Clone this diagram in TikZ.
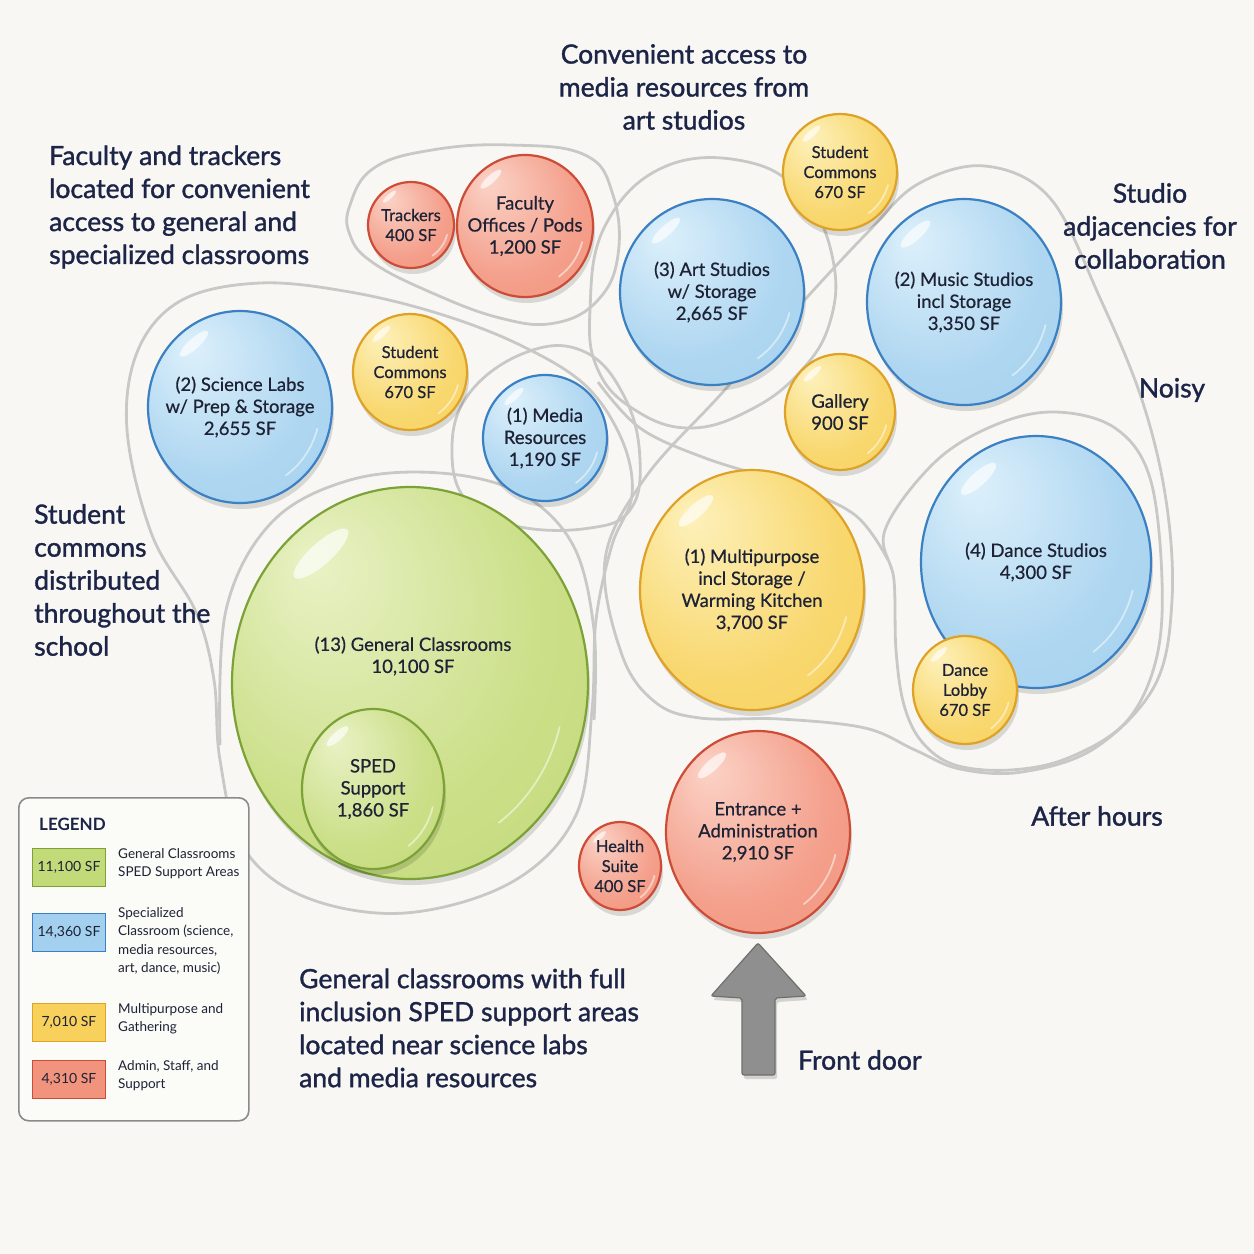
\documentclass[tikz,border=0pt]{standalone}
\usepackage{fontspec}
\setmainfont{Lato}
\newfontfamily\titlef{Lato}[FakeBold=1.3]
\newfontfamily\bubf{Lato}[FakeBold=0.6]
\usetikzlibrary{shapes.geometric,shadows,calc}

\definecolor{bg}{HTML}{F8F7F3}
\definecolor{ink}{HTML}{1C2447}
\definecolor{bink}{HTML}{1E2235}
\definecolor{loopc}{HTML}{C8C8C6}
\definecolor{bluefill}{HTML}{A3D0EE}
\definecolor{blueedge}{HTML}{3A80C2}
\definecolor{bluelight}{HTML}{DDF0FB}
\definecolor{yelfill}{HTML}{F7D15C}
\definecolor{yeledge}{HTML}{DDA227}
\definecolor{yellight}{HTML}{FDF1BC}
\definecolor{redfill}{HTML}{F2937D}
\definecolor{rededge}{HTML}{CC4C37}
\definecolor{redlight}{HTML}{FBD3C7}
\definecolor{grnfill}{HTML}{C3DA78}
\definecolor{grnedge}{HTML}{7CA237}
\definecolor{grnlight}{HTML}{E9F2C6}
\definecolor{arrowfill}{HTML}{8F8F8F}
\definecolor{arrowedge}{HTML}{6F6F6F}
\definecolor{legedge}{HTML}{8A8A8A}

\pgfdeclareradialshading{gblue}{\pgfqpoint{-14bp}{16bp}}{color(0bp)=(bluelight); color(26bp)=(bluefill!80!bluelight); color(44bp)=(bluefill); color(50bp)=(bluefill!85!blueedge)}
\pgfdeclareradialshading{gyel}{\pgfqpoint{-14bp}{16bp}}{color(0bp)=(yellight); color(26bp)=(yelfill!80!yellight); color(44bp)=(yelfill); color(50bp)=(yelfill!85!yeledge)}
\pgfdeclareradialshading{gred}{\pgfqpoint{-14bp}{16bp}}{color(0bp)=(redlight); color(26bp)=(redfill!80!redlight); color(44bp)=(redfill); color(50bp)=(redfill!85!rededge)}
\pgfdeclareradialshading{ggrn}{\pgfqpoint{-14bp}{16bp}}{color(0bp)=(grnlight); color(26bp)=(grnfill!80!grnlight); color(44bp)=(grnfill); color(50bp)=(grnfill!85!grnedge)}

\tikzset{
  bubble/.style={ellipse, inner sep=0pt, draw=#1edge, line width=2.2pt,
    drop shadow={shadow xshift=2pt, shadow yshift=-6pt, opacity=0.13, fill=black}},
  bblue/.style={bubble=blue, shading=gblue},
  byel/.style={bubble=yel, shading=gyel},
  bred/.style={bubble=red, shading=gred},
  bgrn/.style={bubble=grn, shading=ggrn},
  btext/.style={align=center, text=bink, inner sep=0pt, font=\bubf\fontsize{18.5}{22}\selectfont},
  stext/.style={align=center, text=bink, inner sep=0pt, font=\bubf\fontsize{16.5}{20}\selectfont},
  ttext/.style={text=ink, inner sep=0pt, font=\titlef\fontsize{26.5}{33}\selectfont},
  loopline/.style={draw=loopc, line width=2.8pt},
  legtext/.style={text=bink, inner sep=0pt, align=left, anchor=north west, font=\fontsize{13.5}{18.5}\selectfont},
  swatch/.style={draw=#1edge, line width=1pt, fill=#1fill, minimum width=73pt, minimum height=38pt, inner sep=0pt, text=bink, font=\fontsize{14}{16}\selectfont, anchor=north west},
}

% name, cx, cy, rx, ry, style, text style, text
\newcommand\bub[8]{%
  \node[#6, minimum width={2*#4}, minimum height={2*#5}] (#1) at (#2,#3) {};
  \fill[white,opacity=.65,rotate around={42:({#2-0.5*#4},{#3-0.66*#5})}] ({#2-0.5*#4},{#3-0.66*#5}) ellipse ({0.2*#4} and {0.055*#5});
  \draw[white,opacity=.5,line width=1.8pt,line cap=round] ({#2},{#3}) ++(15:{0.87*#4} and {0.87*#5}) arc[start angle=15,end angle=55,x radius={0.87*#4},y radius={0.87*#5}];
  \node[#7] (#1t) at (#2,#3) {#8};
}

\begin{document}
\begin{tikzpicture}[x=1pt,y=-1pt]
\useasboundingbox (0,0) rectangle (1254,1254);
\fill[bg] (0,0) rectangle (1254,1254);

% ---------- grouping loops ----------
% faculty
\draw[loopline] plot[smooth cycle, tension=0.7] coordinates {(350,205) (374,168) (432,150) (510,145) (585,155) (613,195) (618,255) (598,300) (555,323) (500,318) (430,292) (372,262) (350,235)};
% left big (science / commons / general classrooms)
\draw[loopline] plot[smooth cycle, tension=0.6] coordinates {(127,430) (138,350) (182,300) (260,283) (350,292) (440,314) (520,345) (585,385) (622,440) (632,495) (612,545) (596,620) (592,710) (576,815) (512,882) (405,913) (305,897) (243,847) (220,760) (214,680) (196,612) (152,535)};
% general classrooms inner arc
\draw[loopline] plot[smooth, tension=0.6] coordinates {(220,745) (226,610) (272,522) (350,480) (440,473) (520,493) (573,545) (594,630) (594,720)};
% media resources
\draw[loopline] plot[smooth cycle, tension=0.7] coordinates {(452,455) (468,395) (527,352) (585,352) (625,398) (640,460) (630,510) (590,528) (520,527) (470,505)};
% art studios
\draw[loopline] plot[smooth cycle, tension=0.7] coordinates {(590,310) (605,226) (664,167) (748,162) (805,198) (833,260) (830,322) (800,372) (750,410) (690,428) (635,410) (598,370)};
% noisy
\draw[loopline] plot[smooth cycle, tension=0.6] coordinates {(605,560) (645,478) (722,393) (800,305) (868,232) (918,184) (985,166) (1050,198) (1100,298) (1142,400) (1166,500) (1172,600) (1155,685) (1095,748) (1022,772) (960,769) (915,750) (865,728) (780,719) (700,718) (655,702) (622,655)};
% dance
\draw[loopline] plot[smooth cycle, tension=0.6] coordinates {(885,530) (935,462) (995,425) (1055,412) (1115,428) (1150,478) (1162,580) (1156,660) (1126,722) (1068,758) (1010,770) (955,765) (922,742) (904,705) (896,650) (894,580)};
% multipurpose top edge
\draw[loopline] plot[smooth, tension=0.6] coordinates {(598,382) (640,428) (705,458) (790,485) (855,515) (888,560)};

% ---------- bubbles ----------
\bub{trk}{411}{225}{43}{43}{bred}{stext}{Trackers\\400 SF}
\bub{fac}{525}{226}{68}{71}{bred}{btext}{Faculty\\Offices / Pods\\1,200 SF}
\bub{scA}{840}{172}{57}{58}{byel}{stext}{Student\\Commons\\670 SF}
\bub{art}{712}{292}{92}{93}{bblue}{btext}{(3) Art Studios\\w/ Storage\\2,665 SF}
\bub{mus}{964}{302}{97}{103}{bblue}{btext}{(2) Music Studios\\incl Storage\\3,350 SF}
\bub{sci}{240}{407}{92}{96}{bblue}{btext}{(2) Science Labs\\w/ Prep \& Storage\\2,655 SF}
\bub{scB}{410}{372}{57}{58}{byel}{stext}{Student\\Commons\\670 SF}
\bub{med}{545}{438}{62}{63}{bblue}{btext}{(1) Media\\Resources\\1,190 SF}
\bub{gal}{840}{412}{55}{58}{byel}{btext}{Gallery\\900 SF}
\bub{mp}{752}{590}{112}{120}{byel}{btext}{(1) Multipurpose\\incl Storage /\\Warming Kitchen\\3,700 SF}
\bub{dan}{1036}{562}{115}{126}{bblue}{btext}{(4) Dance Studios\\4,300 SF}
\bub{lob}{965}{690}{52}{54}{byel}{stext}{Dance\\Lobby\\670 SF}
\bub{gen}{410}{683}{178}{196}{bgrn}{btext}{}
\node[btext] (gent) at (413,656) {(13) General Classrooms\\10,100 SF};
\bub{sped}{373}{789}{71}{80}{bgrn}{btext}{SPED\\Support\\1,860 SF}
\bub{hea}{620}{866}{41}{44}{bred}{stext}{Health\\Suite\\400 SF}
\bub{ent}{758}{832}{92}{101}{bred}{btext}{Entrance +\\Administration\\2,910 SF}

% ---------- annotations ----------
\node[ttext, align=center] (tA) at (684,87) {Convenient access to\\media resources from\\art studios};
\node[ttext, align=left, anchor=west] (tB) at (49,207) {Faculty and trackers\\located for convenient\\access to general and\\specialized classrooms};
\node[ttext, align=center] (tC) at (1150,226) {Studio\\adjacencies for\\collaboration};
\node[ttext] (tD) at (1172,390) {Noisy};
\node[ttext, align=left, anchor=west] (tE) at (34,580) {Student\\commons\\distributed\\throughout the\\school};
\node[ttext] (tF) at (1097,816) {After hours};
\node[ttext, align=left, anchor=west] (tG) at (299,1028) {General classrooms with full\\inclusion SPED support areas\\located near science labs\\and media resources};
\node[ttext, anchor=west] (tH) at (798,1060) {Front door};

% ---------- front door arrow ----------
\coordinate (tip) at (758,943);
\filldraw[fill=arrowfill, draw=arrowedge, line width=1.2pt, rounded corners=2pt,
  drop shadow={shadow xshift=2pt, shadow yshift=-4pt, opacity=0.15, fill=black}]
  (tip) -- (806,996) -- (775,998) -- (775,1075) -- (742,1075) -- (742,998) -- (711,996) -- cycle;

% ---------- legend ----------
\node[draw=legedge, line width=1.6pt, rounded corners=10pt, fill=white!45!bg, minimum width=230pt, minimum height=323pt, anchor=north west, inner sep=0pt] (leg) at (18,797) {};
\node[text=ink, inner sep=0pt, anchor=west, font=\bfseries\fontsize{17}{20}\selectfont] (legt) at (39,824) {LEGEND};
\node[swatch=grn] (sw1) at (32,848) {11,100 SF};
\node[swatch=blue] (sw2) at (32,913) {14,360 SF};
\node[swatch=yel] (sw3) at (32,1003) {7,010 SF};
\node[swatch=red] (sw4) at (32,1060) {4,310 SF};
\node[legtext] (lg1) at (118,848) {General Classrooms\\SPED Support Areas};
\node[legtext] (lg2) at (118,907) {Specialized\\Classroom (science,\\media resources,\\art, dance, music)};
\node[legtext] (lg3) at (118,1003) {Multipurpose and\\Gathering};
\node[legtext] (lg4) at (118,1060) {Admin, Staff, and\\Support};
\end{tikzpicture}
\end{document}
